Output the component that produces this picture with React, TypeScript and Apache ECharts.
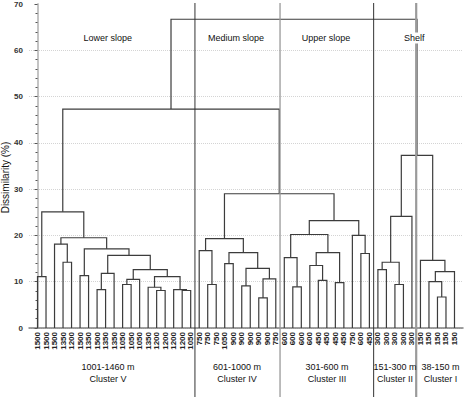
import React, { useEffect, useRef } from "react";
import * as echarts from "echarts";

// Leaf (sample) labels, left to right
const leafLabels = [
  "1500", "1500", "1500", "1350", "1200", "1500", "1350", "1500", "1350", "1350",
  "1050", "1050", "1050", "1350", "1200", "1200", "1200", "1200", "1050",
  "750", "750", "750", "1050", "900", "900", "900", "900", "900", "750",
  "600", "600", "600", "600", "450", "450", "450", "450", "750", "600", "450",
  "300", "300", "300", "300", "300",
  "150", "150", "150", "150", "150",
];

// Linkage: node ids 0..49 are leaves, merge k creates node 50+k
const mergeA = [0, 3, 2, 5, 7, 54, 10, 56, 14, 13, 17, 16, 59, 57, 55, 53, 52, 50,
  20, 19, 22, 24, 26, 72, 71, 70, 69,
  30, 29, 33, 32, 35, 80, 78, 38, 37, 83,
  76, 67,
  40, 42, 89, 91,
  47, 46, 94, 45,
  92, 88];
const mergeB = [1, 4, 51, 6, 8, 9, 11, 12, 15, 58, 18, 60, 61, 62, 63, 64, 65, 66,
  21, 68, 23, 25, 27, 28, 73, 74, 75,
  31, 77, 34, 79, 36, 81, 82, 39, 84, 85,
  86, 87,
  41, 43, 90, 44,
  48, 93, 49, 95,
  96, 97];
const mergeHeight = [11.1, 14.2, 18.1, 11.3, 8.3, 11.8, 9.4, 10.5, 8.1, 8.8, 8.1, 8.3, 11.1, 12.6, 15.7, 17.1, 19.5, 25.1,
  9.4, 16.7, 13.9, 9.1, 6.5, 10.6, 12.9, 16.3, 19.3,
  8.9, 15.2, 10.3, 13.5, 9.8, 16.3, 20.2, 16.1, 20.0, 23.2,
  29.0, 47.3,
  12.6, 9.4, 14.2, 24.1,
  6.7, 10.0, 12.2, 14.6,
  37.3, 66.7];

// Last leaf index of each cluster (boundaries drawn after them)
const clusterEnds = [18, 28, 39, 44];

const zoneLabels = ["Lower slope", "Medium slope", "Upper slope", "Shelf"];
const depthLabels = ["1001-1460 m", "601-1000 m", "301-600 m", "151-300 m", "38-150 m"];
const clusterNames = ["Cluster V", "Cluster IV", "Cluster III", "Cluster II", "Cluster I"];

function buildLinks() {
  const n = leafLabels.length;
  const xs: number[] = [];
  const hs: number[] = [];
  for (let i = 0; i < n; i++) { xs.push(i); hs.push(0); }
  const out: number[][] = [];
  for (let k = 0; k < mergeA.length; k++) {
    const a = mergeA[k], b = mergeB[k], h = mergeHeight[k];
    out.push([xs[a], hs[a], xs[b], hs[b], h]);
    xs.push((xs[a] + xs[b]) / 2);
    hs.push(h);
  }
  return out;
}

export default function App() {
  const ref = useRef<HTMLDivElement>(null);
  useEffect(() => {
    if (!ref.current) return;
    const chart = echarts.init(ref.current, undefined, { renderer: "svg" });
    const links = buildLinks();
    const sepStyles = [
      { stroke: "#333", lineWidth: 1 },
      { stroke: "#999", lineWidth: 1.3 },
      { stroke: "#333", lineWidth: 1 },
      { stroke: "#9a9a9a", lineWidth: 2.2 },
    ];
    const font = "Liberation Sans, Arial, sans-serif";
    const zoneX = [107.7, 236, 326, 414.3];
    const bottomX = [108, 237, 327, 395, 440.5];

    const graphic: any[] = [];
    zoneLabels.forEach((t, i) => {
      graphic.push({
        type: "text", x: zoneX[i], y: 38, z: 100,
        style: {
          text: t, fontSize: 9, fontFamily: font, fill: "#111",
          align: "center", verticalAlign: "middle",
          backgroundColor: i === 3 ? "#fff" : undefined,
          padding: i === 3 ? [1, 1] : 0,
        },
      });
    });
    depthLabels.forEach((t, i) => {
      graphic.push({
        type: "text", x: bottomX[i], y: 373, z: 100,
        style: {
          text: t + "\n" + clusterNames[i], fontSize: 9, fontFamily: font, fill: "#111",
          align: "center", verticalAlign: "middle", lineHeight: 12.6,
        },
      });
    });
    graphic.push({
      type: "text", x: 5.5, y: 177.5, rotation: Math.PI / 2, z: 100,
      style: {
        text: "Dissimilarity (%)", fontSize: 10, fontFamily: font, fill: "#111",
        align: "center", verticalAlign: "middle",
      },
    });

    chart.setOption({
      animation: false,
      grid: { left: 29, right: 1, top: 4, bottom: 69 },
      xAxis: {
        type: "value", min: -1, max: leafLabels.length, interval: 1,
        axisLine: { show: true, lineStyle: { color: "#808080", width: 1.5 } },
        axisTick: { show: false },
        splitLine: { show: false },
        axisLabel: {
          rotate: 90, fontSize: 8, fontWeight: "bold", fontFamily: font, color: "#222", margin: 4,
          showMinLabel: true, showMaxLabel: true,
          formatter: (v: number) => {
            const i = Math.round(v);
            return i >= 0 && i < leafLabels.length && Math.abs(v - i) < 1e-6 ? leafLabels[i] : "";
          },
        },
      },
      yAxis: {
        type: "value", min: 0, max: 70, interval: 10,
        axisLine: { show: true, lineStyle: { color: "#c4c4c4", width: 2 } },
        axisTick: { show: true, length: 3, lineStyle: { color: "#555" } },
        minorTick: { show: true, splitNumber: 5, length: 2, lineStyle: { color: "#555" } },
        axisLabel: { fontSize: 8, fontWeight: "bold", fontFamily: font, color: "#333", margin: 6 },
        splitLine: { show: true, showMaxLine: false, lineStyle: { color: "#d4d4d4", type: "dotted" } },
      },
      graphic,
      series: [
        {
          type: "custom",
          silent: true,
          encode: { x: [0, 2], y: [1, 3, 4] },
          data: links,
          renderItem: (params: any, api: any) => {
            const p1 = api.coord([api.value(0), api.value(1)]);
            const p2 = api.coord([api.value(0), api.value(4)]);
            const p3 = api.coord([api.value(2), api.value(4)]);
            const p4 = api.coord([api.value(2), api.value(3)]);
            return {
              type: "polyline",
              shape: { points: [p1, p2, p3, p4] },
              style: { stroke: "#3c3c3c", lineWidth: 1.2, fill: "none" },
            };
          },
        },
        {
          type: "custom",
          silent: true,
          clip: false,
          encode: { x: 0, y: 1 },
          data: clusterEnds.map((e) => [e + 0.5, 0]),
          renderItem: (params: any, api: any) => {
            const top = api.coord([api.value(0), 70]);
            const s = sepStyles[params.dataIndex];
            return {
              type: "line",
              shape: { x1: top[0], y1: top[1] - 1, x2: top[0], y2: api.getHeight() },
              style: { stroke: s.stroke, lineWidth: s.lineWidth },
            };
          },
        },
      ],
    });
    return () => chart.dispose();
  }, []);
  return <div ref={ref} style={{ width: 464, height: 397, position: "absolute", left: 0, top: 0 }} />;
}
